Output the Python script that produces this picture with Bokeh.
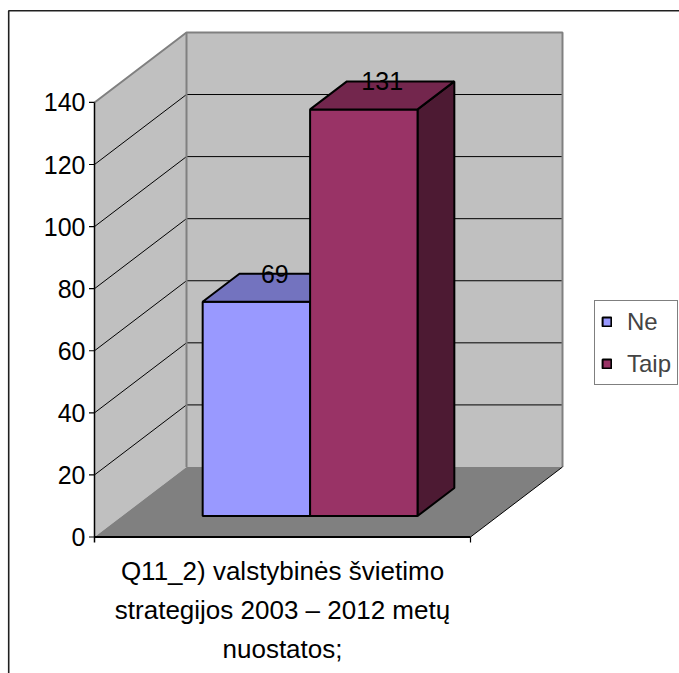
from bokeh.plotting import figure
from bokeh.models import Range1d, Legend, LegendItem
from bokeh.core.properties import value
from bokeh.embed import file_html
from bokeh.resources import INLINE

# ---- data ----
series = ["Ne", "Taip"]
counts = [69, 131]
front_colors = ["#9999FF", "#993366"]
top_colors = ["#7373BF", "#73264D"]
side_colors = ["#4D4D80", "#4D1A33"]
category = "Q11_2) valstybinės švietimo\nstrategijos 2003 – 2012 metų\nnuostatos;"
y_ticks = [0, 20, 40, 60, 80, 100, 120, 140]

# ---- layout / projection ----
W, H = 679, 673
SX = 376.0      # px per category unit
SY = 3.104      # px per value unit
X0 = 94.0       # canvas x of front value axis
Y0 = 536.5      # canvas y of value 0 (front plane)
DX = 92.0 / SX  # depth shift (category units)
DY = 70.0 / SY  # depth shift (value units)
VMAX = y_ticks[-1]
FONT_NAME = "Liberation Sans"
FONT = value(FONT_NAME)


def P(x, v, d):
    return x + d * DX, v + d * DY


def poly(pts):
    xs, ys = zip(*[P(*q) for q in pts])
    return list(xs), list(ys)


p = figure(width=W, height=H, output_backend="svg", toolbar_location=None,
           x_range=Range1d(-X0 / SX, (W - X0) / SX),
           y_range=Range1d(-(H - Y0) / SY, Y0 / SY),
           min_border=0, x_axis_location=None, y_axis_location=None)
p.grid.visible = False
p.outline_line_color = None
p.background_fill_color = "white"
p.border_fill_color = "white"

# chart border (left and top)
bx = (8.2 - X0) / SX
by = (Y0 - 10.2) / SY
p.line([bx, bx, (W + 20 - X0) / SX], [-(H + 20 - Y0) / SY, by, by],
       line_color="#202020", line_width=1.6)

# walls
sx, sy = poly([(0, 0, 0), (0, VMAX, 0), (0, VMAX, 1), (0, 0, 1)])
p.patch(sx, sy, fill_color="#C0C0C0", line_color=None)
bxs, bys = poly([(0, 0, 1), (0, VMAX, 1), (1, VMAX, 1), (1, 0, 1)])
p.patch(bxs, bys, fill_color="#C0C0C0", line_color=None)
fx, fy = poly([(0, 0, 0), (1, 0, 0), (1, 0, 1), (0, 0, 1)])
p.patch(fx, fy, fill_color="#808080", line_color=None)

# gridlines
for t in y_ticks[1:-1]:
    gx, gy = poly([(0, t, 0), (0, t, 1), (1, t, 1)])
    p.line(gx, gy, line_color="black", line_width=1)

# wall edges (gray)
ex, ey = poly([(0, VMAX, 0), (0, VMAX, 1), (1, VMAX, 1), (1, 0, 1)])
p.line(ex, ey, line_color="#808080", line_width=2)
ex, ey = poly([(0, VMAX, 1), (0, 0, 1)])
p.line(ex, ey, line_color="#808080", line_width=2)

# floor right edge
ex, ey = poly([(1, 0, 0), (1, 0, 1)])
p.line(ex, ey, line_color="black", line_width=1)

# axes
tick_px = 5.5
p.line([0, 0], [-tick_px / SY, VMAX], line_color="black", line_width=1.5)
p.line([0, 1], [0, 0], line_color="black", line_width=2)
p.segment(x0=[-tick_px / SX] * len(y_ticks), y0=y_ticks, x1=[0] * len(y_ticks), y1=y_ticks,
          line_color="black", line_width=1.2)
p.segment(x0=[1], y0=[0], x1=[1], y1=[-tick_px / SY], line_color="black", line_width=1.2)
p.text(x=[0] * len(y_ticks), y=y_ticks, text=[str(t) for t in y_ticks],
       x_offset=-9, text_align="right", text_baseline="middle",
       text_font=FONT, text_font_size="25px", text_color="black")
p.text(x=[0.5], y=[0], text=[category], y_offset=73, text_align="center",
       text_baseline="middle", text_font=FONT, text_font_size="26px",
       text_line_height=1.3, text_color="black")

# bars
n = len(series)
bw = 1.0 / (n + 1.5)
d0, d1 = 0.3, 0.7
items = []
for i, (name, val) in enumerate(zip(series, counts)):
    l = 0.75 * bw + i * bw
    r = l + bw
    xs, ys = poly([(r, 0, d0), (r, 0, d1), (r, val, d1), (r, val, d0)])
    p.patch(xs, ys, fill_color=side_colors[i], line_color="black", line_width=2)
    xs, ys = poly([(l, 0, d0), (r, 0, d0), (r, val, d0), (l, val, d0)])
    fr = p.patch(xs, ys, fill_color=front_colors[i], line_color="black", line_width=2)
    xs, ys = poly([(l, val, d0), (r, val, d0), (r, val, d1), (l, val, d1)])
    p.patch(xs, ys, fill_color=top_colors[i], line_color="black", line_width=2)
    items.append(LegendItem(label=name, renderers=[fr]))

# value labels
lx, ly = [], []
for i, val in enumerate(counts):
    c = 0.75 * bw + i * bw + bw / 2
    x, y = P(c, val, d1)
    lx.append(c + 0.5 * DX)
    ly.append(y)
p.text(x=lx, y=ly, text=[str(c) for c in counts], text_align="center",
       text_baseline="middle", text_font=FONT, text_font_size="25px", text_color="black")

legend = Legend(items=items, location=(594, 288), margin=0, padding=6, spacing=13,
                glyph_width=11, glyph_height=11, label_standoff=15, label_height=29,
                label_text_font=FONT_NAME, label_text_font_size="24px",
                border_line_color="black", border_line_width=1,
                background_fill_color="white", background_fill_alpha=1)
p.add_layout(legend)

open("out.html", "w").write(file_html(p, INLINE))
